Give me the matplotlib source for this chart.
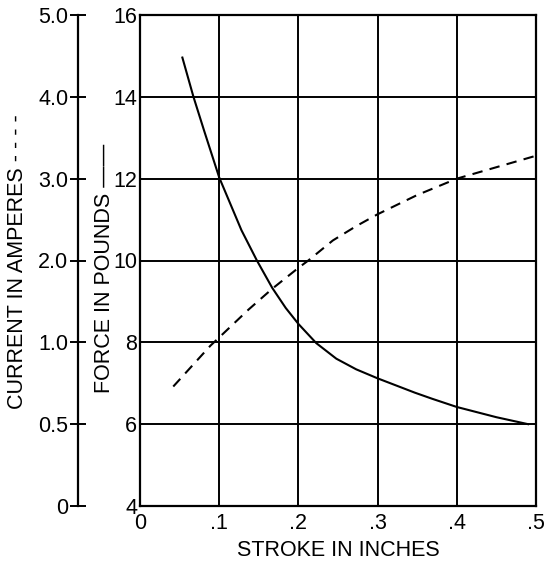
import numpy as np
import matplotlib
matplotlib.use("Agg")
import matplotlib.pyplot as plt

plt.rcParams['font.family'] = ['Liberation Sans', 'DejaVu Sans']

# force curve (solid)
stroke_force = [0.0535, 0.0675, 0.081, 0.1, 0.1281, 0.1476, 0.167, 0.184, 0.2, 0.2226,
                0.2479, 0.273, 0.3, 0.347, 0.369, 0.4, 0.45, 0.49]
force = [14.96, 14.0, 13.17, 12.03, 10.74, 10.0, 9.33, 8.84, 8.45, 7.98,
         7.6, 7.34, 7.12, 6.77, 6.62, 6.42, 6.17, 6.0]

# current curve (dashed), in amperes
stroke_current = [0.042, 0.089, 0.1, 0.137, 0.167, 0.2, 0.2125, 0.2435, 0.273, 0.3,
                  0.334, 0.35, 0.4, 0.45, 0.5]
current = [0.73, 0.98, 1.06, 1.4, 1.655, 1.91, 2.0, 2.245, 2.42, 2.565,
           2.725, 2.8, 3.0, 3.14, 3.28]

x_ticks = [0, 0.1, 0.2, 0.3, 0.4, 0.5]
x_labels = ['0', '.1', '.2', '.3', '.4', '.5']
force_ticks = [4, 6, 8, 10, 12, 14, 16]
current_ticks = [0, 0.5, 1.0, 2.0, 3.0, 4.0, 5.0]
current_labels = ['0', '0.5', '1.0', '2.0', '3.0', '4.0', '5.0']

# the current scale is printed against the force grid (not linear)
def cur_fwd(c):
    return np.interp(c, current_ticks, force_ticks)

def cur_inv(f):
    return np.interp(f, force_ticks, current_ticks)

FS = 15.5

fig = plt.figure(figsize=(5.44, 5.62), dpi=100)
ax = fig.add_axes([140/544, 56/562, 396/544, 491/562])

ax.plot(stroke_force, force, color='black', lw=1.5)
ax.set_xlim(0, 0.5)
ax.set_ylim(4, 16)
ax.set_xticks(x_ticks)
ax.set_xticklabels(x_labels)
ax.set_yticks(force_ticks)
ax.grid(True, color='black', lw=1.4)
ax.tick_params(length=0, labelsize=FS)
ax.tick_params(axis='y', pad=2)
ax.tick_params(axis='x', pad=5)
for s in ax.spines.values():
    s.set_linewidth(1.6)
ax.set_xlabel('STROKE IN INCHES', fontsize=FS, labelpad=4)

ax2 = ax.twinx()
ax2.set_yscale('function', functions=(cur_fwd, cur_inv))
ax2.plot(stroke_current, current, color='black', lw=1.5, ls=(0, (5, 3.5)))
ax2.set_ylim(0, 5)
ax2.set_yticks(current_ticks)
ax2.set_yticklabels(current_labels)
ax2.yaxis.set_minor_locator(matplotlib.ticker.NullLocator())
ax2.yaxis.set_ticks_position('left')
ax2.yaxis.set_label_position('left')
for k in ['top', 'right', 'bottom']:
    ax2.spines[k].set_visible(False)
ax2.spines['left'].set_position(('outward', 45))
ax2.spines['left'].set_linewidth(1.6)
ax2.tick_params(direction='inout', length=11, width=1.4, labelsize=FS, pad=1)

fig.text(18/544, 1 - 262/562, 'CURRENT IN AMPERES - - - -', rotation=90,
         ha='center', va='center', fontsize=FS)
fig.text(104/544, 1 - 268/562, 'FORCE IN POUNDS ——', rotation=90,
         ha='center', va='center', fontsize=FS)

fig.savefig('out.png', dpi=100)
